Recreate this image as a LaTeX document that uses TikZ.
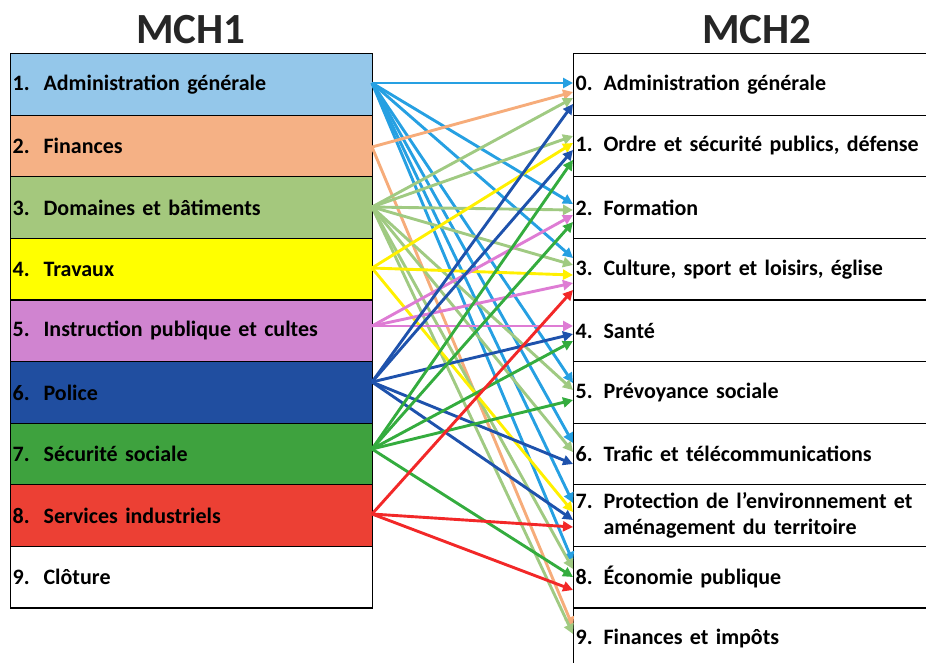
\documentclass[tikz,border=0pt]{standalone}
\usepackage{fontspec}
\setmainfont{Carlito}
\usetikzlibrary{arrows.meta}
\definecolor{f1}{RGB}{148,199,234}
\definecolor{f2}{RGB}{245,177,133}
\definecolor{f3}{RGB}{164,200,125}
\definecolor{f4}{RGB}{255,255,0}
\definecolor{f5}{RGB}{208,132,208}
\definecolor{f6}{RGB}{32,78,160}
\definecolor{f7}{RGB}{62,162,62}
\definecolor{f8}{RGB}{236,64,52}
\definecolor{cLB}{RGB}{38,160,226}
\definecolor{cLO}{RGB}{246,172,122}
\definecolor{cLG}{RGB}{160,202,130}
\definecolor{cY}{RGB}{255,240,0}
\definecolor{cP}{RGB}{222,124,212}
\definecolor{cDB}{RGB}{30,82,172}
\definecolor{cG}{RGB}{52,172,62}
\definecolor{cR}{RGB}{242,40,40}
\begin{document}
\begin{tikzpicture}[x=1pt,y=-1pt,
  lbox/.style={draw=black,line width=1.2pt,anchor=north west,minimum width=362pt,minimum height=61.6pt,
    inner xsep=2pt,text width=358pt,align=left,font=\fontsize{22}{26}\selectfont\bfseries},
  rbox/.style={draw=black,line width=1.2pt,anchor=north west,minimum width=362pt,minimum height=61.6pt,
    inner xsep=2pt,text width=358pt,align=left,font=\fontsize{22}{26}\selectfont\bfseries},
  ttl/.style={font=\fontsize{43}{50}\selectfont\bfseries,text=black!85},
  arr/.style={line width=2.9pt,-{Triangle[length=10pt,width=10pt]}}]
\useasboundingbox (0,0) rectangle (926,662);
\node[ttl] (T1) at (191,30) {MCH1};
\node[ttl] (T2) at (757,30) {MCH2};
% left column
\node[lbox,fill=f1] (L1) at (10,53) {\makebox[31pt][l]{1.}Administration générale};
\node[lbox,fill=f2] (L2) at (10,114.6) {\makebox[31pt][l]{2.}Finances};
\node[lbox,fill=f3] (L3) at (10,176.2) {\makebox[31pt][l]{3.}Domaines et bâtiments};
\node[lbox,fill=f4] (L4) at (10,237.8) {\makebox[31pt][l]{4.}Travaux};
\node[lbox,fill=f5] (L5) at (10,299.4) {\makebox[31pt][l]{5.}Instruction publique et cultes};
\node[lbox,fill=f6] (L6) at (10,361) {\makebox[31pt][l]{6.}Police};
\node[lbox,fill=f7] (L7) at (10,422.6) {\makebox[31pt][l]{7.}Sécurité sociale};
\node[lbox,fill=f8] (L8) at (10,484.2) {\makebox[31pt][l]{8.}Services industriels};
\node[lbox,fill=white] (L9) at (10,545.8) {\makebox[31pt][l]{9.}Clôture};
% right column
\node[rbox] (R0) at (573,53) {\makebox[28pt][l]{0.}Administration générale};
\node[rbox] (R1) at (573,114.6) {\makebox[28pt][l]{1.}Ordre et sécurité publics, défense};
\node[rbox] (R2) at (573,176.2) {\makebox[28pt][l]{2.}Formation};
\node[rbox] (R3) at (573,237.8) {\makebox[28pt][l]{3.}Culture, sport et loisirs, église};
\node[rbox] (R4) at (573,299.4) {\makebox[28pt][l]{4.}Santé};
\node[rbox] (R5) at (573,361) {\makebox[28pt][l]{5.}Prévoyance sociale};
\node[rbox] (R6) at (573,422.6) {\makebox[28pt][l]{6.}Trafic et télécommunications};
\node[rbox] (R7) at (573,484.2) {\makebox[28pt][l]{7.}Protection de l’environnement et\\\hspace*{28pt}aménagement du territoire};
\node[rbox] (R8) at (573,545.8) {\makebox[28pt][l]{8.}Économie publique};
\node[rbox] (R9) at (573,607.4) {\makebox[28pt][l]{9.}Finances et impôts};
% source points
\coordinate (s1) at (372,83);
\coordinate (s2) at (372,147);
\coordinate (s3) at (372,207);
\coordinate (s4) at (372,268);
\coordinate (s5) at (372,326);
\coordinate (s6) at (372,382);
\coordinate (s7) at (372,449);
\coordinate (s8) at (372,514);
\foreach \s/\t/\y/\c in {
  1/0/83/cLB, 1/2/204/cLB, 1/3/258/cLB, 1/5/383/cLB, 1/6/443/cLB, 1/7/503/cLB, 1/8/562/cLB,
  2/0/92/cLO, 2/9/627/cLO,
  3/0/98/cLG, 3/1/136/cLG, 3/2/210/cLG, 3/3/265/cLG, 3/5/390/cLG, 3/6/452/cLG, 3/8/569/cLG, 3/9/634/cLG,
  4/1/143/cY, 4/3/275/cY, 4/7/512/cY,
  5/2/215/cP, 5/3/283/cP, 5/4/326/cP,
  6/0/104/cDB, 6/1/150/cDB, 6/4/334/cDB, 6/6/464/cDB, 6/7/520/cDB,
  7/1/160/cG, 7/2/222/cG, 7/4/341/cG, 7/5/400/cG, 7/8/577/cG,
  8/3/290/cR, 8/7/527/cR, 8/8/590/cR}{
  \coordinate (e\s-\t) at (573,\y);
  \draw[arr,draw=\c,fill=\c] (s\s) -- (e\s-\t);
}
\end{tikzpicture}
\end{document}
